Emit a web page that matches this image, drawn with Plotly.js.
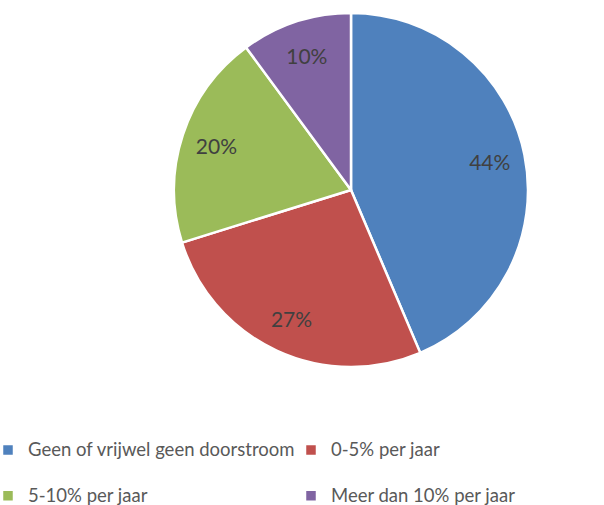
<!DOCTYPE html>
<html>
<head>
<meta charset="utf-8">
<script src="https://cdn.plot.ly/plotly-3.0.1.min.js"></script>
<style>html,body{margin:0;padding:0;background:#fff;}</style>
</head>
<body>
<div id="chart" style="width:604px;height:505px;"></div>
<script>
const categories = ["Geen of vrijwel geen doorstroom", "0-5% per jaar", "5-10% per jaar", "Meer dan 10% per jaar"];
const shares = [43.6, 26.6, 19.7, 10.1];
const colors = ["#4F81BD", "#C0504D", "#9BBB59", "#8064A2"];

const pieDomain = {x: [174/604, 528/604], y: [1 - 367/505, 1 - 13/505]};
const font = "Lato, 'Open Sans', sans-serif";
// legend text (an empty second line gives the taller legend rows of the reference)
const legendLabels = categories.map(c => '<span style="font-size:18.5px">' + c + '</span><br>\u00a0');

// the pie slices (and legend entries)
const slices = {
  type: "pie",
  labels: legendLabels,
  values: shares,
  sort: false,
  direction: "clockwise",
  rotation: 0,
  marker: {colors: colors, line: {color: "#ffffff", width: 2.5}},
  textinfo: "none",
  hoverinfo: "label+percent",
  domain: pieDomain
};

// percentage labels, placed by the library in an outer ring of the same pie
const labelsRing = {
  type: "pie",
  labels: legendLabels,
  values: shares,
  sort: false,
  direction: "clockwise",
  rotation: 0,
  hole: 0.6,
  showlegend: false,
  marker: {colors: colors.map(() => "rgba(0,0,0,0)"), line: {width: 0}},
  texttemplate: "%{percent:.0%}",
  textposition: "inside",
  insidetextorientation: "horizontal",
  textfont: {family: font, size: 21, color: "#404040"},
  hoverinfo: "skip",
  domain: pieDomain
};

const layout = {
  width: 604,
  height: 505,
  margin: {l: 0, r: 0, t: 0, b: 0, autoexpand: false},
  paper_bgcolor: "#ffffff",
  showlegend: true,
  legend: {
    orientation: "h",
    x: 0, xanchor: "left",
    y: 1 - 432.7/505, yanchor: "top",
    valign: "top",
    entrywidth: 270, entrywidthmode: "pixels",
    indentation: -12,
    font: {family: font, size: 16.5, color: "#595959"},
    bgcolor: "rgba(0,0,0,0)"
  }
};

Plotly.newPlot("chart", [slices, labelsRing], layout, {displayModeBar: false, staticPlot: true});
</script>
</body>
</html>
